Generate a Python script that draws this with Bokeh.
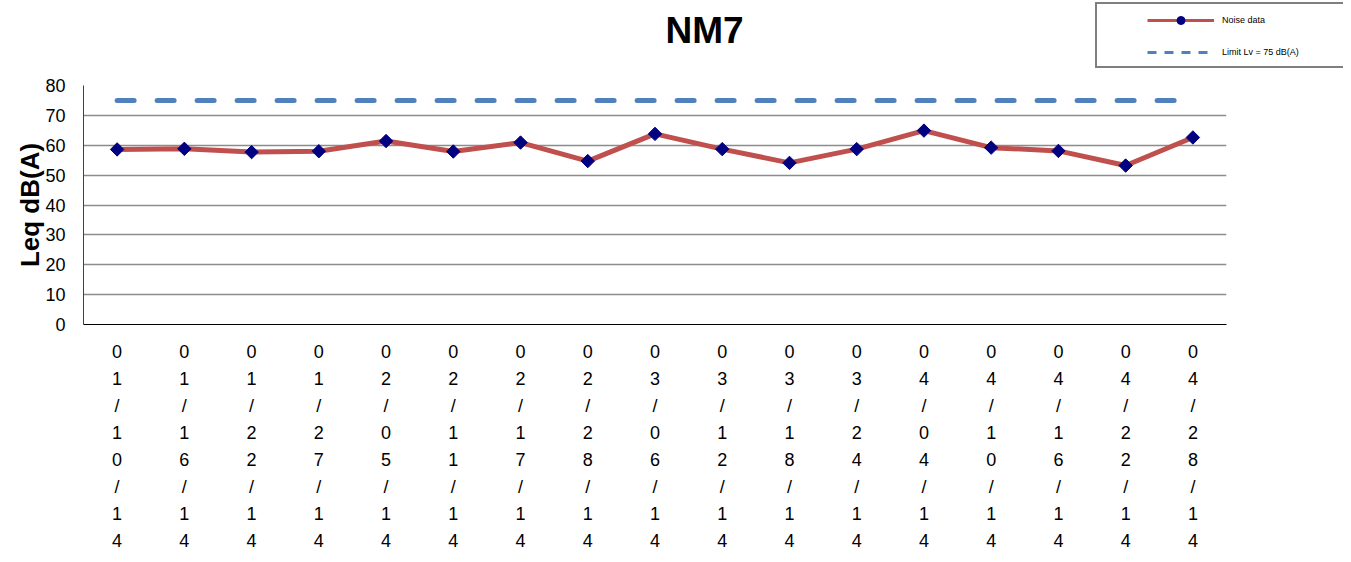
import math
from bokeh.plotting import figure
from bokeh.layouts import column
from bokeh.models import FixedTicker, Legend, LegendItem, ColumnDataSource, Range1d
from bokeh.core.properties import value
from bokeh.embed import file_html
from bokeh.resources import INLINE

dates = ["01/10/14", "01/16/14", "01/22/14", "01/27/14", "02/05/14", "02/11/14",
         "02/17/14", "02/28/14", "03/06/14", "03/12/14", "03/18/14", "03/24/14",
         "04/04/14", "04/10/14", "04/16/14", "04/22/14", "04/28/14"]
noise = [58.6, 58.8, 57.7, 58.0, 61.4, 57.9, 60.9, 54.7, 63.8, 58.7, 54.1, 58.7,
         64.9, 59.2, 58.1, 53.2, 62.6]
limit = [75] * len(dates)
y_ticks = [0, 10, 20, 30, 40, 50, 60, 70, 80]
title_text = "NM7"
series_names = ["Noise data", "Limit Lv = 75 dB(A)"]

W = 1343
HEAD_H = 75

# ---------- header (title + legend) ----------
head = figure(width=W, height=HEAD_H, output_backend="svg", toolbar_location=None,
              x_range=Range1d(0, W), y_range=Range1d(HEAD_H, 0),
              x_axis_type=None, y_axis_type=None,
              min_border=0, min_border_left=0, min_border_right=0,
              min_border_top=0, min_border_bottom=0)
head.outline_line_color = None
head.xgrid.grid_line_color = None
head.ygrid.grid_line_color = None
head.text(x=[665], y=[30], text=[title_text], text_font=value("Liberation Sans"),
          text_font_size="37px", text_font_style="bold", text_color="black",
          text_baseline="alphabetic", text_align="left")

nan = float("nan")
h_line = head.line(x=[nan, nan], y=[nan, nan], line_color="#C0504D", line_width=3)
h_dot = head.scatter(x=[nan], y=[nan], marker="circle", size=4,
                     fill_color="#000080", line_color="#000080")
h_lim = head.line(x=[nan, nan], y=[nan, nan], line_color="#4F81BD", line_width=3,
                  line_dash="9 8")

legend = Legend(items=[LegendItem(label=series_names[0], renderers=[h_line, h_dot]),
                       LegendItem(label=series_names[1], renderers=[h_lim])],
                location=(1095, HEAD_H - 68), orientation="vertical",
                glyph_width=67, glyph_height=20, label_height=20, spacing=12,
                label_standoff=8, label_text_font="Liberation Sans",
                label_text_font_size="9px", label_text_color="black",
                border_line_color="black", border_line_width=2.5,
                background_fill_color="white", background_fill_alpha=1.0)
try:
    legend.padding = dict(left=50, right=0, top=6, bottom=4)
    legend.label_width = 128
except Exception:
    legend.padding = 4
    legend.label_width = 170
head.add_layout(legend, "center")

# ---------- main chart ----------
xs = list(range(len(dates)))
src = ColumnDataSource(dict(x=xs, noise=noise, limit=limit))

p = figure(width=W, height=554 - HEAD_H, output_backend="svg", toolbar_location=None,
           x_range=(-0.5, len(dates) - 0.5), y_range=(0, 80),
           min_border_left=83, min_border_right=117, min_border_top=85 - HEAD_H,
           min_border_bottom=229)
p.outline_line_color = None
p.background_fill_color = "white"

for fig in (head, p):
    try:
        fig.frame_align = False
    except Exception:
        pass

p.xgrid.grid_line_color = None
p.ygrid.grid_line_color = "#8c8c8c"
p.ygrid.grid_line_width = 1.5
p.yaxis.ticker = FixedTicker(ticks=y_ticks)
p.xaxis.ticker = FixedTicker(ticks=xs)
p.xaxis.major_label_overrides = {i: "\n".join(list(d)) for i, d in enumerate(dates)}

for ax in (p.xaxis[0], p.yaxis[0]):
    ax.major_tick_out = 0
    ax.major_tick_in = 0
    ax.minor_tick_out = 0
    ax.minor_tick_in = 0
    ax.major_label_text_font = "Liberation Sans"
    ax.major_label_text_color = "black"

p.xaxis.axis_line_color = "black"
p.xaxis.axis_line_width = 1.2
p.xaxis.major_label_text_font_size = "18px"
p.xaxis.major_label_text_line_height = 1.355
p.xaxis.major_label_standoff = 17

p.yaxis.axis_line_color = "#404040"
p.yaxis.major_label_text_font_size = "18px"
p.yaxis.major_label_standoff = 18
p.yaxis.axis_label = "Leq dB(A)"
p.yaxis.axis_label_text_font = "Liberation Sans"
p.yaxis.axis_label_text_font_size = "26px"
p.yaxis.axis_label_text_font_style = "bold"
p.yaxis.axis_label_text_color = "black"
p.yaxis.axis_label_standoff = -3

p.line("x", "limit", source=src, line_color="#4F81BD", line_width=5,
       line_dash="17 23", line_cap="round")
p.line("x", "noise", source=src, line_color="#C0504D", line_width=5)
p.scatter("x", "noise", source=src, marker="square", size=9.5, angle=math.pi / 4,
          fill_color="#000080", line_color="#000080")

layout = column(head, p, spacing=0)
open("out.html", "w").write(file_html(layout, INLINE))
